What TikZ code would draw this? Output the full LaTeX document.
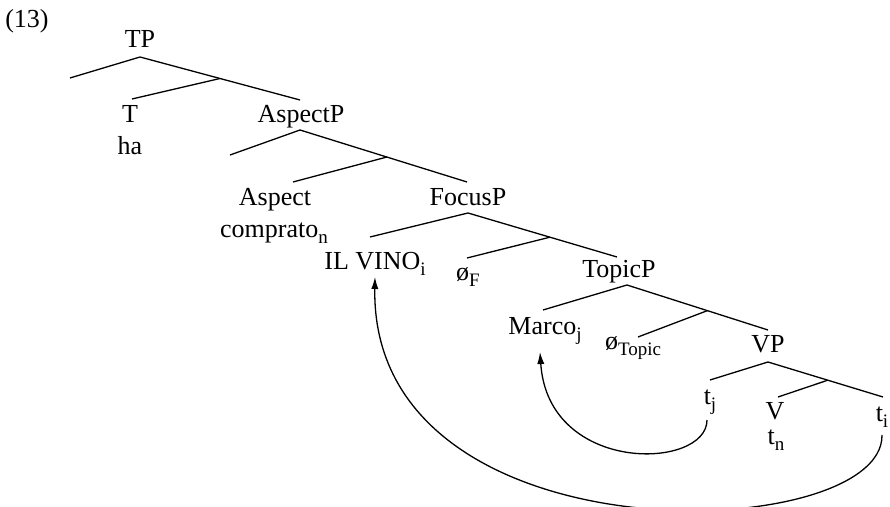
\documentclass[tikz,border=0pt]{standalone}
\usepackage{fontspec}
\setmainfont{Liberation Serif}
\usepackage{tikz}
\usetikzlibrary{calc, arrows.meta}
\newcommand{\idx}[1]{\raisebox{-0.45ex}{\fontsize{9.5}{10}\selectfont #1}}
\tikzset{
  word/.style={font=\fontsize{13}{15}\selectfont, inner sep=0pt, anchor=base},
  branch/.style={line width=0.65pt},
  movearrow/.style={line width=0.65pt, -{Latex[length=6pt, width=3.6pt]}}
}

\begin{document}
\begin{tikzpicture}[x=0.5pt, y=-0.5pt]
        \useasboundingbox (0,0) rectangle (890,507);
        \node[word] (ex) at (27,28) {(13)};
        \node[word] (TP) at (140,48) {TP};
        \node[word] (T) at (130,123) {T};
        \node[word] (ha) at (130,155) {ha};
        \node[word] (AspectP) at (301,123) {AspectP};
        \node[word] (Aspect) at (275,206) {Aspect};
        \node[word] (comprato) at (274,238) {comprato\idx{n}};
        \node[word] (FocusP) at (468,206) {FocusP};
        \node[word] (vino) at (375,270) {IL VINO\idx{i}};
        \node[word] (zeroF) at (468,281) {ø\idx{F}};
        \node[word] (TopicP) at (619,278) {TopicP};
        \node[word] (marco) at (545,335) {Marco\idx{j}};
        \node[word] (zeroTopic) at (633,350) {ø\idx{Topic}};
        \node[word] (VP) at (768,353) {VP};
        \node[word] (tj) at (710,405) {t\idx{j}};
        \node[word] (V) at (775,420) {V};
        \node[word] (tn) at (776,445) {t\idx{n}};
        \node[word] (ti) at (882,422) {t\idx{i}};

        \coordinate (tp) at (140,57);
        \coordinate (tp-spec) at (70,78);
        \coordinate (tp-right) at (300,100);
        \coordinate (tp-head) at (132,99);
        \coordinate (tp-bar) at ($(tp)!0.5!(tp-right)$);
        \coordinate (asp) at (300,130);
        \coordinate (asp-spec) at (230,155);
        \coordinate (asp-right) at (467,182);
        \coordinate (asp-head) at (293,182);
        \coordinate (asp-bar) at ($(asp)!0.52!(asp-right)$);
        \coordinate (foc) at (468,213);
        \coordinate (foc-spec) at (370,237);
        \coordinate (foc-right) at (617,257);
        \coordinate (foc-head) at (467,258);
        \coordinate (foc-bar) at ($(foc)!0.55!(foc-right)$);
        \coordinate (top) at (627,285);
        \coordinate (top-spec) at (543,310);
        \coordinate (top-right) at (768,330);
        \coordinate (top-head) at (638,337);
        \coordinate (top-bar) at ($(top)!0.57!(top-right)$);
        \coordinate (vp) at (768,362);
        \coordinate (vp-spec) at (710,380);
        \coordinate (vp-right) at (883,397);
        \coordinate (vp-head) at (778,397);
        \coordinate (vp-bar) at ($(vp)!0.52!(vp-right)$);

        \draw[branch] (tp-spec) -- (tp) -- (tp-right);
        \draw[branch] (tp-bar) -- (tp-head);
        \draw[branch] (asp-spec) -- (asp) -- (asp-right);
        \draw[branch] (asp-bar) -- (asp-head);
        \draw[branch] (foc-spec) -- (foc) -- (foc-right);
        \draw[branch] (foc-bar) -- (foc-head);
        \draw[branch] (top-spec) -- (top) -- (top-right);
        \draw[branch] (top-bar) -- (top-head);
        \draw[branch] (vp-spec) -- (vp) -- (vp-right);
        \draw[branch] (vp-bar) -- (vp-head);

        \coordinate (tj-foot) at ($(tj.base)+(-3,15)$);
        \coordinate (marco-foot) at ($(marco.base)+(-5,17)$);
        \coordinate (ti-foot) at ($(ti.base)+(0,13)$);
        \coordinate (vino-foot) at ($(vino.base)+(0,7)$);
        \draw[movearrow] (tj-foot) .. controls +(0,50) and +(8,123) .. (marco-foot);
        \draw[movearrow] (ti-foot) .. controls +(2,110) and +(-5,288) .. (vino-foot);
    \end{tikzpicture}
\end{document}
